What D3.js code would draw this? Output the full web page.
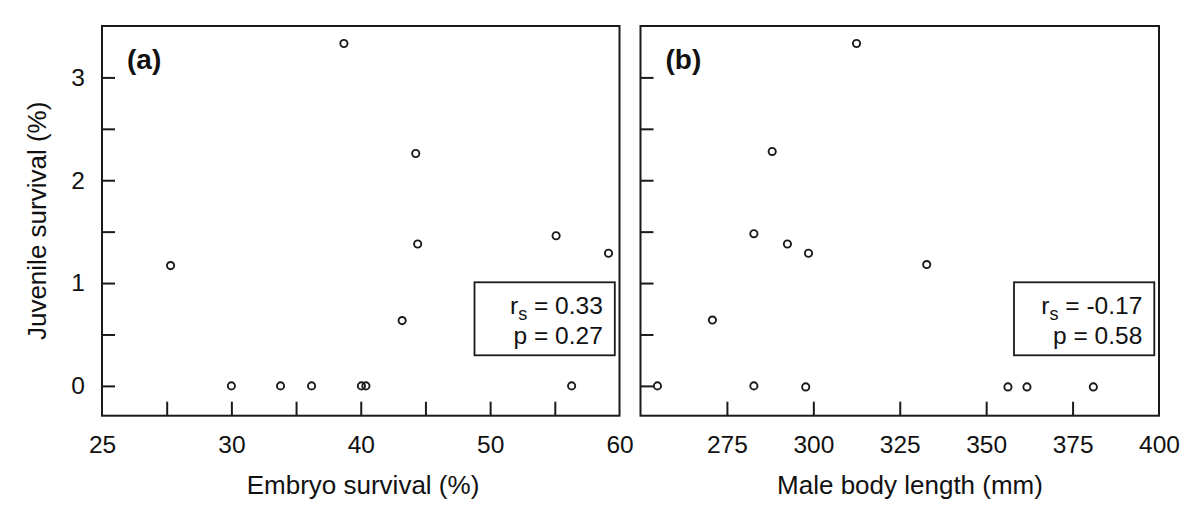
<!DOCTYPE html>
<html>
<head>
<meta charset="utf-8">
<script src="https://cdn.jsdelivr.net/npm/d3@7"></script>
<style>
  html, body { margin: 0; padding: 0; background: #fff; }
  svg { display: block; }
  text { font-family: "Liberation Sans", Arial, Helvetica, sans-serif; fill: #111; }
</style>
</head>
<body>
<svg id="chart" width="1200" height="518"></svg>
<script>
// ---- data ----
const embryoSurvival = [25.3, 30.0, 33.8, 36.2, 38.7, 40.05, 40.4, 43.2, 44.25, 44.4, 55.1, 56.3, 59.15];
const juvenileSurvivalA = [1.17, 0, 0, 0, 3.33, 0, 0, 0.635, 2.26, 1.38, 1.46, 0, 1.29];

const maleBodyLength = [254.9, 270.8, 282.8, 282.8, 288.1, 292.5, 297.8, 298.6, 312.5, 332.8, 356.3, 361.8, 381.0];
const juvenileSurvivalB = [0, 0.64, 0, 1.48, 2.28, 1.38, -0.01, 1.29, 3.33, 1.18, -0.01, -0.01, -0.01];

const yTickMarks = [0, 0.5, 1, 1.5, 2, 2.5, 3];
const yTickLabels = [0, 1, 2, 3];

const xTickMarksA = [25, 30, 35, 40, 45, 50, 55];
const xLabelPosA = [20, 30, 40, 50, 60];
const xLabelTextA = ["25", "30", "40", "50", "60"];

const xTickMarksB = [275, 300, 325, 350, 375];
const xLabelPosB = [275, 300, 325, 350, 375, 400];
const xLabelTextB = ["275", "300", "325", "350", "375", "400"];

const panelLabels = ["(a)", "(b)"];
const statR = ["0.33", "-0.17"];
const statP = ["0.27", "0.58"];
const xTitles = ["Embryo survival (%)", "Male body length (mm)"];
const yTitle = "Juvenile survival (%)";

// ---- layout ----
const svg = d3.select("#chart");
const plotTop = 26, plotBottom = 415.7;
const y = d3.scaleLinear().domain([-0.29, 3.5]).range([plotBottom, plotTop]);

const panels = [
  { left: 102, right: 619.5, domain: [20, 60], xs: embryoSurvival, ys: juvenileSurvivalA,
    ticks: xTickMarksA, labelPos: xLabelPosA, labelText: xLabelTextA, titleX: 363 },
  { left: 640.5, right: 1159, domain: [250, 400], xs: maleBodyLength, ys: juvenileSurvivalB,
    ticks: xTickMarksB, labelPos: xLabelPosB, labelText: xLabelTextB, titleX: 910 }
];

const ink = "#1a1a1a";
const fontFam = "'Liberation Sans', Arial, Helvetica, sans-serif";

panels.forEach((p, i) => {
  const x = d3.scaleLinear().domain(p.domain).range([p.left, p.right]);
  const g = svg.append("g");

  // x tick marks (inward)
  const xMarks = g.append("g").attr("transform", `translate(0,${plotBottom})`)
    .call(d3.axisBottom(x).tickValues(p.ticks).tickSizeInner(-14).tickSizeOuter(0).tickFormat(""));
  xMarks.select(".domain").remove();
  xMarks.selectAll("line").attr("stroke", ink).attr("stroke-width", 2);

  // x labels
  const labelMap = new Map(p.labelPos.map((v, k) => [v, p.labelText[k]]));
  const xLab = g.append("g").attr("transform", `translate(0,${plotBottom})`)
    .call(d3.axisBottom(x).tickValues(p.labelPos).tickSize(0).tickPadding(20).tickFormat(d => labelMap.get(d)));
  xLab.select(".domain").remove();
  xLab.selectAll("text").attr("font-size", 24.5).attr("fill", "#111").attr("font-family", fontFam);

  // y tick marks (inward)
  const yMarks = g.append("g").attr("transform", `translate(${p.left},0)`)
    .call(d3.axisLeft(y).tickValues(yTickMarks).tickSizeInner(-13).tickSizeOuter(0).tickFormat(""));
  yMarks.select(".domain").remove();
  yMarks.selectAll("line").attr("stroke", ink).attr("stroke-width", 2);

  if (i === 0) {
    const yLab = g.append("g").attr("transform", `translate(${p.left},0)`)
      .call(d3.axisLeft(y).tickValues(yTickLabels).tickSize(0).tickPadding(17).tickFormat(d3.format("d")));
    yLab.select(".domain").remove();
    yLab.selectAll("text").attr("font-size", 24.5).attr("fill", "#111").attr("font-family", fontFam);
  }

  // frame
  g.append("rect")
    .attr("x", p.left).attr("y", plotTop)
    .attr("width", p.right - p.left).attr("height", plotBottom - plotTop)
    .attr("fill", "none").attr("stroke", ink).attr("stroke-width", 2);

  // points
  g.append("g").selectAll("circle")
    .data(p.xs.map((v, k) => [v, p.ys[k]]))
    .join("circle")
    .attr("cx", d => x(d[0])).attr("cy", d => y(d[1]))
    .attr("r", 3.6)
    .attr("fill", "none").attr("stroke", ink).attr("stroke-width", 1.9);

  // panel label
  g.append("text")
    .attr("x", p.left + 25).attr("y", 69)
    .attr("font-size", 28).attr("font-weight", "bold")
    .text(panelLabels[i]);

  // stats box
  const bx = p.right - 145, bw = 140.3;
  g.append("rect")
    .attr("x", bx).attr("y", 282.3).attr("width", bw).attr("height", 73)
    .attr("fill", "#fff").attr("stroke", ink).attr("stroke-width", 1.8);
  const tr = g.append("text").attr("x", bx + bw - 12).attr("y", 314)
    .attr("text-anchor", "end").attr("font-size", 24.5);
  tr.append("tspan").text("r");
  tr.append("tspan").attr("font-size", 18).attr("dy", 6).text("s");
  tr.append("tspan").attr("dy", -6).text(" = " + statR[i]);
  g.append("text").attr("x", bx + bw - 12).attr("y", 344.3)
    .attr("text-anchor", "end").attr("font-size", 24.5)
    .text("p = " + statP[i]);

  // x title
  g.append("text")
    .attr("x", p.titleX).attr("y", 494)
    .attr("text-anchor", "middle").attr("font-size", 26)
    .text(xTitles[i]);
});

// y title
svg.append("text")
  .attr("transform", `translate(46,${(plotTop + plotBottom) / 2}) rotate(-90)`)
  .attr("text-anchor", "middle").attr("font-size", 26)
  .text(yTitle);
</script>
</body>
</html>
